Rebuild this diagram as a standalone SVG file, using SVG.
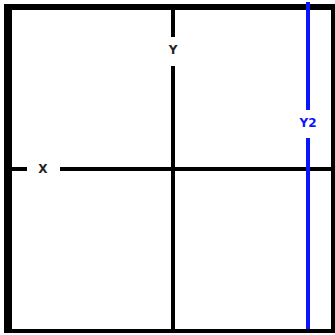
<svg xmlns="http://www.w3.org/2000/svg" width="335" height="335" viewBox="0 0 335 335">
<style>
.lbl{font-family:"DejaVu Sans","Liberation Sans",sans-serif;font-weight:bold;font-size:12px;text-anchor:middle;dominant-baseline:central}
.blk{stroke:#000;stroke-width:4;fill:none}
</style>
<rect width="335" height="335" fill="#fff"/>
<g id="connectors">
<line class="blk" x1="173" y1="10" x2="173" y2="37"/>
<line class="blk" x1="173" y1="66" x2="173" y2="330"/>
<line class="blk" x1="12" y1="169" x2="27" y2="169"/>
<line class="blk" x1="60" y1="169" x2="333" y2="169"/>
<line stroke="#0a14ff" stroke-width="4" x1="308" y1="2" x2="308" y2="110"/>
<line stroke="#0a14ff" stroke-width="4" x1="308" y1="138" x2="308" y2="330"/>
</g>
<g id="frame">
<rect x="4" y="4" width="8" height="329" fill="#000"/>
<rect x="5" y="4" width="301" height="6" fill="#000"/>
<rect x="310" y="4" width="25" height="6" fill="#000"/>
<rect x="331" y="4" width="4" height="329" fill="#000"/>
<rect x="4" y="329" width="331" height="4" fill="#000"/>
</g>
<g id="Y"><text class="lbl" x="173" y="50" fill="#222">Y</text></g>
<g id="X"><text class="lbl" x="43" y="169" fill="#222">X</text></g>
<g id="Y2"><text class="lbl" x="308" y="123" fill="#0a14ff">Y2</text></g>
</svg>
